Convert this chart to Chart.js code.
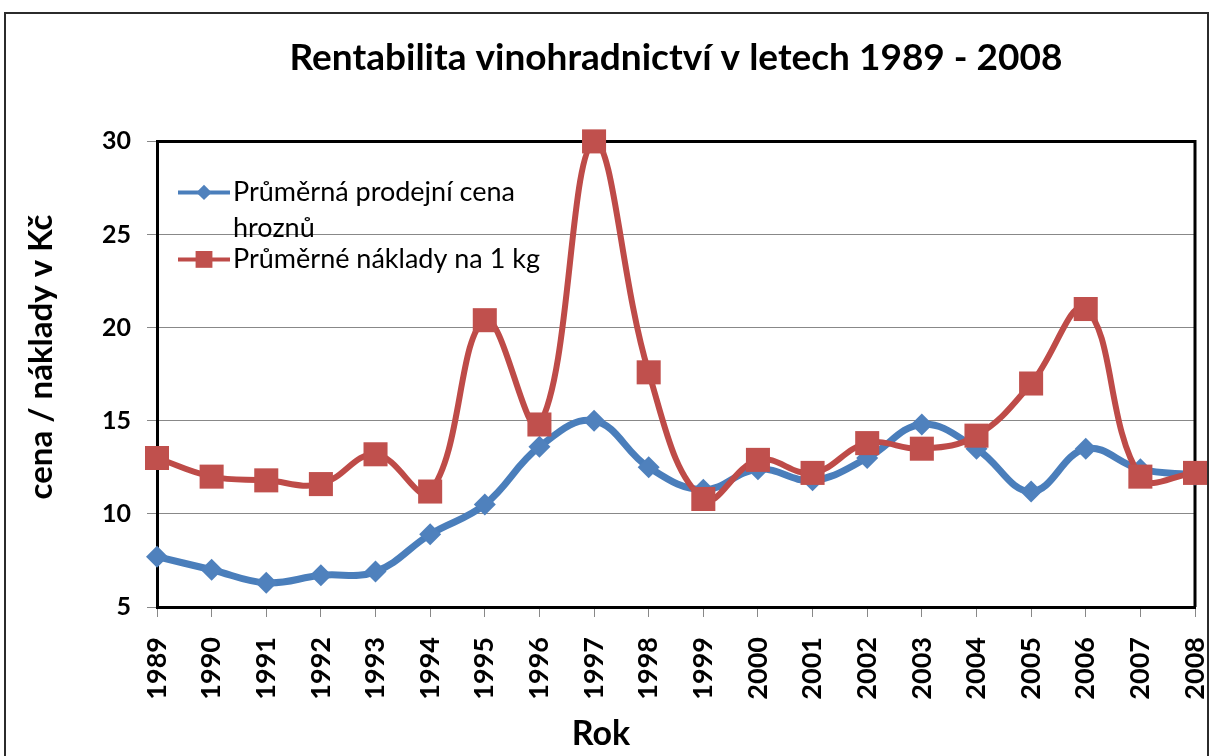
<!DOCTYPE html>
<html>
<head>
<meta charset="utf-8">
<script src="https://cdn.jsdelivr.net/npm/chart.js@4"></script>
<style>
  body { margin: 0; background: #fff; }
  #wrap { position: relative; width: 1212px; height: 756px; overflow: hidden; }
  #frame { position: absolute; left: 4px; top: 12px; width: 1201px; height: 800px; border: 2px solid #2b2b2b; pointer-events: none; }
</style>
</head>
<body>
<div id="wrap">
  <canvas id="myChart" width="1212" height="756"></canvas>
  <div id="frame"></div>
</div>
<script>
// years (categories)
let years = ['1989', '1990', '1991', '1992', '1993', '1994', '1995', '1996', '1997', '1998',
             '1999', '2000', '2001', '2002', '2003', '2004', '2005', '2006', '2007', '2008'];

// average selling price of grapes, Kč
let cena = [7.7, 7.0, 6.3, 6.7, 6.9, 8.9, 10.5, 13.6, 15.0, 12.5,
            11.3, 12.4, 11.8, 13.0, 14.8, 13.5, 11.2, 13.5, 12.4, 12.1];

// average costs per 1 kg, Kč
let naklady = [13.0, 12.0, 11.8, 11.6, 13.2, 11.2, 20.4, 14.8, 30.0, 17.6,
               10.8, 12.9, 12.2, 13.8, 13.5, 14.2, 17.0, 21.0, 12.0, 12.2];

// y axis ticks
let yTicks = [5, 10, 15, 20, 25, 30];

// axis titles
let xTitle = 'Rok';
let yTitle = 'cena / náklady v Kč';

const font = 'Lato';

// black frame on top and right of the plot
const plotFrame = {
    id: 'plotFrame',
    beforeDatasetsDraw(chart) {
        const {ctx, chartArea: a} = chart;
        ctx.save();
        ctx.strokeStyle = '#000';
        ctx.lineWidth = 3;
        ctx.beginPath();
        ctx.moveTo(a.left, a.top);
        ctx.lineTo(a.right, a.top);
        ctx.lineTo(a.right, a.bottom);
        ctx.stroke();
        ctx.restore();
    }
};

// axis titles sit a bit off the plot centre in the original
const axisTitles = {
    id: 'axisTitles',
    afterDraw(chart) {
        const ctx = chart.ctx;
        ctx.save();
        ctx.fillStyle = '#000';
        ctx.textAlign = 'center';
        ctx.textBaseline = 'middle';
        ctx.font = 'bold 34px ' + font;
        ctx.fillText(xTitle, 601, 734);
        ctx.translate(41, 357);
        ctx.rotate(-Math.PI / 2);
        ctx.font = 'bold 33px ' + font;
        ctx.fillText(yTitle, 0, 0);
        ctx.restore();
    }
};

function marker(ctx, style, x, y, r, color) {
    ctx.fillStyle = color;
    ctx.beginPath();
    if (style === 'rect') {
        let s = r * Math.SQRT1_2;
        ctx.rect(x - s, y - s, 2 * s, 2 * s);
    } else {
        ctx.moveTo(x, y - r);
        ctx.lineTo(x + r, y);
        ctx.lineTo(x, y + r);
        ctx.lineTo(x - r, y);
        ctx.closePath();
    }
    ctx.fill();
}

// legend inside the plot, first label wraps on two lines
const innerLegend = {
    id: 'innerLegend',
    afterDatasetsDraw(chart) {
        const {ctx, chartArea: a} = chart;
        const rows = [a.top + 51, a.top + 118];
        ctx.save();
        ctx.font = '27px ' + font;
        ctx.textBaseline = 'middle';
        chart.data.datasets.forEach((ds, i) => {
            let y = rows[i];
            let x0 = a.left + 21;
            ctx.strokeStyle = ds.borderColor;
            ctx.lineWidth = 4;
            ctx.beginPath();
            ctx.moveTo(x0, y);
            ctx.lineTo(x0 + 52, y);
            ctx.stroke();
            marker(ctx, ds.pointStyle, x0 + 26, y, ds.pointRadius * 0.7, ds.pointBackgroundColor);
            ctx.fillStyle = '#000';
            let lines = Array.isArray(ds.legendText) ? ds.legendText : [ds.label];
            lines.forEach((t, k) => ctx.fillText(t, x0 + 55, y + k * 36));
        });
        ctx.restore();
    }
};

let ctx = document.getElementById('myChart');

let myChart = new Chart(ctx, {
    type: 'line',
    data: {
        labels: years,
        datasets: [{
            label: 'Průměrná prodejní cena hroznů',
            legendText: ['Průměrná prodejní cena', 'hroznů'],
            data: cena,
            borderColor: '#4A7EBB',
            borderWidth: 7,
            pointStyle: 'rectRot',
            pointRadius: 11,
            pointBackgroundColor: '#4F81BD',
            pointBorderColor: '#4F81BD',
            pointBorderWidth: 0,
            tension: 0.4,
            clip: false,
            order: 2
        }, {
            label: 'Průměrné náklady na 1 kg',
            data: naklady,
            borderColor: '#BE4B48',
            borderWidth: 6,
            pointStyle: 'rect',
            pointRadius: 17,
            pointBackgroundColor: '#C0504D',
            pointBorderColor: '#C0504D',
            pointBorderWidth: 0,
            tension: 0.4,
            clip: false,
            order: 1
        }]
    },
    options: {
        responsive: false,
        animation: false,
        layout: {padding: {left: 0, right: 15, top: 0, bottom: 0}},
        plugins: {
            legend: {display: false},
            tooltip: {enabled: false},
            title: {
                display: true,
                fullSize: false,
                text: 'Rentabilita vinohradnictví v letech 1989 - 2008',
                color: '#000',
                font: {family: font, size: 37, weight: 'bold'},
                padding: {top: 36, bottom: 61}
            }
        },
        scales: {
            x: {
                type: 'category',
                offset: false,
                grid: {display: true, drawOnChartArea: false, color: '#888', tickLength: 10},
                border: {color: '#000', width: 3},
                ticks: {
                    color: '#000', minRotation: 90, maxRotation: 90, padding: 20, autoSkip: false,
                    font: {family: font, size: 27, weight: 'bold'}
                },
                afterFit(scale) {
                    scale.height = 149;
                    scale.paddingLeft = 0;
                    scale.paddingRight = 0;
                }
            },
            y: {
                min: 5,
                max: 30,
                afterBuildTicks(scale) { scale.ticks = yTicks.map(v => ({value: v})); },
                grid: {color: '#888', tickLength: 10},
                border: {color: '#000', width: 3},
                ticks: {color: '#000', padding: 16, font: {family: font, size: 25, weight: 'bold'}},
                afterFit(scale) {
                    scale.width = 157;
                    scale.paddingTop = 0;
                    scale.paddingBottom = 0;
                }
            }
        }
    },
    plugins: [plotFrame, innerLegend, axisTitles]
});
</script>
</body>
</html>
